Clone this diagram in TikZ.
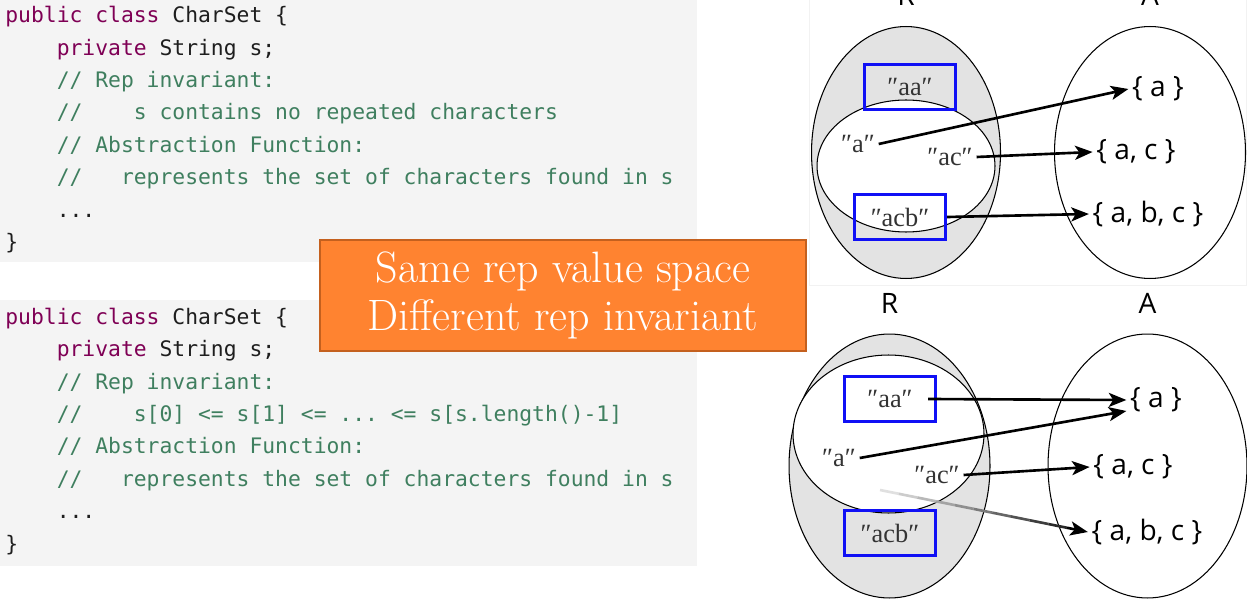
\documentclass[tikz,border=0pt]{standalone}
\usepackage{fontspec}
\setmonofont{DejaVu Sans Mono}
\newfontfamily\setsfont{Open Sans}
\newfontfamily\strsfont{Liberation Serif}
\usepackage{tikz}
\usetikzlibrary{arrows.meta,positioning,calc,shapes.geometric}
\definecolor{codebg}{HTML}{F4F4F4}
\definecolor{codetext}{HTML}{1E1E1E}
\definecolor{kwcolor}{HTML}{7F0055}
\definecolor{cmtcolor}{HTML}{3F7F5F}
\definecolor{notefill}{HTML}{FF8330}
\definecolor{noteedge}{HTML}{C4601E}
\definecolor{pickblue}{HTML}{1010F5}
\definecolor{repfill}{HTML}{E3E3E3}
\definecolor{strtext}{HTML}{333333}
\newcommand{\kw}[1]{\textcolor{kwcolor}{#1}}
\newcommand{\cmt}[1]{\textcolor{cmtcolor}{#1}}

\begin{document}
\begin{tikzpicture}[x=0.02cm, y=-0.02cm,
  codebg/.style={anchor=north west, fill=codebg, inner sep=0pt, minimum width=13.94cm, minimum height=#1},
  codeln/.style={anchor=base west, inner sep=0pt, text=codetext, font=\ttfamily\fontsize{12.15pt}{14pt}\selectfont},
  note/.style={draw=noteedge, line width=1.2pt, fill=notefill, text=white, minimum width=9.72cm, minimum height=2.22cm, align=center, font=\fontsize{25pt}{27.5pt}\selectfont},
  repset/.style={ellipse, draw=black, line width=0.6pt, fill=repfill, inner sep=0pt},
  inset/.style={ellipse, draw=black, line width=0.6pt, fill=white, inner sep=0pt},
  absset/.style={ellipse, draw=black, line width=0.6pt, fill=white, inner sep=0pt},
  lbl/.style={inner sep=0pt, font=\setsfont\fontsize{16pt}{16pt}\selectfont},
  setlbl/.style={inner sep=2pt, font=\setsfont\fontsize{16pt}{16pt}\selectfont},
  str/.style={inner sep=2pt, text=strtext, font=\strsfont\fontsize{15pt}{15pt}\selectfont},
  pick/.style={draw=pickblue, line width=1.9pt, minimum width=1.82cm, minimum height=0.9cm, inner sep=0pt, text=strtext, font=\strsfont\fontsize{15pt}{15pt}\selectfont},
  arr/.style={-{Stealth[length=10pt, width=8pt, inset=2.5pt]}, line width=1.5pt, black}
]
  \useasboundingbox (0,0) rectangle (1247,601);
  \clip (0,0) rectangle (1247,601);

  % code listings
  \node[codebg=5.24cm] (bg1) at (0,0) {};
  \node[codeln] (c1l1) at (5,23) {\kw{public class} CharSet \{};
  \node[codeln] (c1l2) at (5,55.5) {~~~~\kw{private} String s;};
  \node[codeln] (c1l3) at (5,88) {~~~~\cmt{// Rep invariant:}};
  \node[codeln] (c1l4) at (5,120) {~~~~\cmt{//~~~~s contains no repeated characters}};
  \node[codeln] (c1l5) at (5,152.5) {~~~~\cmt{// Abstraction Function:}};
  \node[codeln] (c1l6) at (5,185) {~~~~\cmt{//~~~represents the set of characters found in s}};
  \node[codeln] (c1l7) at (5,217.5) {~~~~...};
  \node[codeln] (c1l8) at (5,250) {\}};

  \node[codebg=5.32cm] (bg2) at (0,300) {};
  \node[codeln] (c2l1) at (5,324) {\kw{public class} CharSet \{};
  \node[codeln] (c2l2) at (5,356.5) {~~~~\kw{private} String s;};
  \node[codeln] (c2l3) at (5,389) {~~~~\cmt{// Rep invariant:}};
  \node[codeln] (c2l4) at (5,421) {~~~~\cmt{//~~~~s[0] <= s[1] <= ... <= s[s.length()-1]}};
  \node[codeln] (c2l5) at (5,453.5) {~~~~\cmt{// Abstraction Function:}};
  \node[codeln] (c2l6) at (5,486) {~~~~\cmt{//~~~represents the set of characters found in s}};
  \node[codeln] (c2l7) at (5,518.5) {~~~~...};
  \node[codeln] (c2l8) at (5,551) {\}};

  \node[note] (note) at (563,295.5) {Same rep value space\\Different rep invariant};

  % upper mapping
  \draw[black!5] (809,-2) rectangle (1246,285);
  \node[repset, minimum width=3.78cm, minimum height=5.04cm] (rTop) at (906,152.5) {};
  \node[inset, minimum width=3.56cm, minimum height=2.64cm] (rTopIn) at (906,166) {};
  \node[absset, minimum width=3.82cm, minimum height=5.04cm] (aTop) at (1150,152.5) {};
  \node[lbl, above=0.4cm of rTop] (labRTop) {R};
  \node[lbl, above=0.4cm of aTop] (labATop) {A};

  \node[pick] (strAA1) at (910,87) {″aa″};
  \node[str] (strA1) at (858,144) {″a″};
  \node[str] (strAC1) at (950,157) {″ac″};
  \node[pick] (strACB1) at (900,217) {″acb″};

  \node[setlbl] (setA1) at (1158,89) {\{ a \}};
  \node[setlbl] (setAC1) at (1136,152) {\{ a, c \}};
  \node[setlbl] (setABC1) at (1148,214) {\{ a, b, c \}};

  \draw[arr] (strA1.east) -- (setA1.west);
  \draw[arr] (strAC1.east) -- (setAC1.west);
  \draw[arr] (strACB1.east) -- (setABC1.west);

  % lower mapping
  \node[repset, minimum width=4.02cm, minimum height=5.28cm] (rBot) at (889.5,466) {};
  \node[inset, minimum width=3.82cm, minimum height=3.16cm] (rBotIn) at (888.5,434) {};
  \node[absset, minimum width=3.98cm, minimum height=5.28cm] (aBot) at (1147.5,466) {};
  \node[lbl, above=0.4cm of rBot] (labRBot) {R};
  \node[lbl, above=0.4cm of aBot] (labABot) {A};

  \node[pick] (strAA2) at (890,399) {″aa″};
  \node[str] (strA2) at (839,458) {″a″};
  \node[str] (strAC2) at (937,475) {″ac″};
  \node[pick] (strACB2) at (890,533) {″acb″};

  \node[setlbl] (setA2) at (1156,400) {\{ a \}};
  \node[setlbl] (setAC2) at (1133,467) {\{ a, c \}};
  \node[setlbl] (setABC2) at (1147,532) {\{ a, b, c \}};

  \coordinate (fadeStart) at (880,490);
  \draw[arr] ([xshift=-0.18cm]strAA2.east) -- (setA2.west);
  \draw[arr] (strA2.east) -- ([yshift=-0.22cm]setA2.west);
  \draw[arr] (strAC2.east) -- (setAC2.west);
  \foreach \k [evaluate=\k as \shade using 12+\k*8] in {0,...,9}
    \draw[line width=1.5pt, black!\shade] ($(fadeStart)!\k/10*0.9!(setABC2.west)$) -- ($(fadeStart)!\k/10*0.9+0.09!(setABC2.west)$);
  \draw[arr] ($(fadeStart)!0.9!(setABC2.west)$) -- (setABC2.west);
\end{tikzpicture}
\end{document}
